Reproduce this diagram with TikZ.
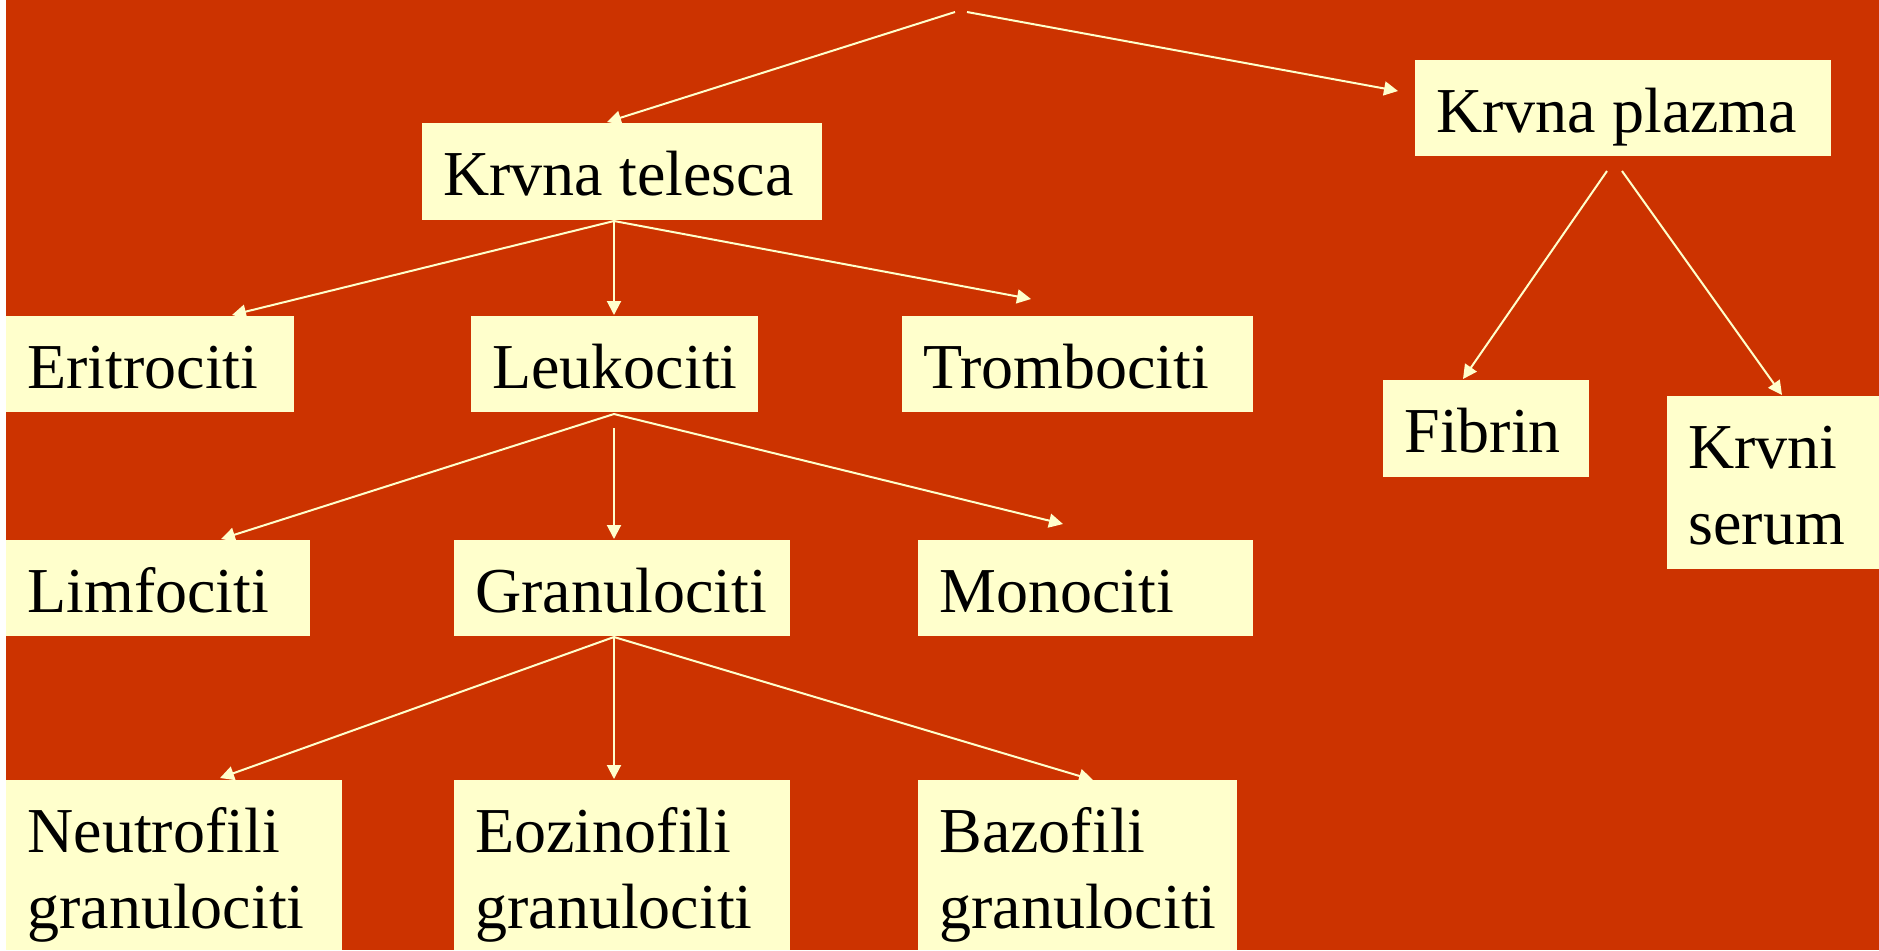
\documentclass[tikz,border=0pt]{standalone}
\usepackage{fontspec}
\setmainfont{Liberation Serif}
\usetikzlibrary{arrows.meta}
\definecolor{bg}{HTML}{CC3300}
\definecolor{boxc}{HTML}{FFFFCC}
\begin{document}
\begin{tikzpicture}[x=0.5pt,y=-0.5pt,
 box/.style={fill=boxc, inner sep=0pt, outer sep=0pt, anchor=north west, draw=none},
 lbl/.style={anchor=base west, inner sep=0pt, font=\fontsize{32}{38}\selectfont, text=black},
 con/.style={draw=boxc, line width=1pt, -{Triangle[length=7pt,width=7pt]}}]
\useasboundingbox (0,0) rectangle (1879,950);
\fill[white] (0,0) rectangle (1879,950);
\fill[bg] (6,0) rectangle (1879,950);
% boxes
\node[box, minimum width=200pt, minimum height=48.5pt] (tel) at (422,123) {};
\node[box, minimum width=208pt, minimum height=48pt] (pla) at (1415,60) {};
\node[box, minimum width=144pt, minimum height=48pt] (eri) at (6,316) {};
\node[box, minimum width=143.5pt, minimum height=48pt] (leu) at (471,316) {};
\node[box, minimum width=175.5pt, minimum height=48pt] (tro) at (902,316) {};
\node[box, minimum width=103pt, minimum height=48.5pt] (fib) at (1383,380) {};
\node[box, minimum width=106pt, minimum height=86.5pt] (ser) at (1667,396) {};
\node[box, minimum width=152pt, minimum height=48pt] (lim) at (6,540) {};
\node[box, minimum width=168pt, minimum height=48pt] (gra) at (454,540) {};
\node[box, minimum width=167.5pt, minimum height=48pt] (mon) at (918,540) {};
\node[box, minimum width=168pt, minimum height=85pt] (neu) at (6,780) {};
\node[box, minimum width=168pt, minimum height=85pt] (eoz) at (454,780) {};
\node[box, minimum width=159.5pt, minimum height=85pt] (baz) at (918,780) {};
% labels
\node[lbl] (telT) at (443,195) {Krvna telesca};
\node[lbl] (plaT) at (1436,132) {Krvna plazma};
\node[lbl] (eriT) at (27,388) {Eritrociti};
\node[lbl] (leuT) at (492,388) {Leukociti};
\node[lbl] (troT) at (923,388) {Trombociti};
\node[lbl] (fibT) at (1404,452) {Fibrin};
\node[lbl] (serT) at (1688,468) {\vtop{\hbox{Krvni}\hbox{serum}}};
\node[lbl] (limT) at (27,612) {Limfociti};
\node[lbl] (graT) at (475,612) {Granulociti};
\node[lbl] (monT) at (939,612) {Monociti};
\node[lbl] (neuT) at (27,852) {\vtop{\hbox{Neutrofili}\hbox{granulociti}}};
\node[lbl] (eozT) at (475,852) {\vtop{\hbox{Eozinofili}\hbox{granulociti}}};
\node[lbl] (bazT) at (939,852) {\vtop{\hbox{Bazofili}\hbox{granulociti}}};
% connector endpoints
\coordinate (topL) at (955,12);
\coordinate (topR) at (967,12);
\coordinate (telIn) at (607,122);
\coordinate (plaIn) at (1398,91);
\coordinate (telOut) at (614,221);
\coordinate (eriIn) at (232,315);
\coordinate (leuIn) at (614,315);
\coordinate (troIn) at (1031,299);
\coordinate (plaOutL) at (1607,171);
\coordinate (plaOutR) at (1622,171);
\coordinate (fibIn) at (1463,379);
\coordinate (serIn) at (1782,395);
\coordinate (leuOut) at (614,414);
\coordinate (leuOutV) at (614,428);
\coordinate (limIn) at (221,539);
\coordinate (graIn) at (614,539);
\coordinate (monIn) at (1063,524);
\coordinate (graOut) at (614,637);
\coordinate (neuIn) at (220,778);
\coordinate (eozIn) at (614,779);
\coordinate (bazIn) at (1093,780);
% connectors
\draw[con] (topL) -- (telIn);
\draw[con] (topR) -- (plaIn);
\draw[con] (telOut) -- (eriIn);
\draw[con] (telOut) -- (leuIn);
\draw[con] (telOut) -- (troIn);
\draw[con] (plaOutL) -- (fibIn);
\draw[con] (plaOutR) -- (serIn);
\draw[con] (leuOut) -- (limIn);
\draw[con] (leuOutV) -- (graIn);
\draw[con] (leuOut) -- (monIn);
\draw[con] (graOut) -- (neuIn);
\draw[con] (graOut) -- (eozIn);
\draw[con] (graOut) -- (bazIn);
\end{tikzpicture}
\end{document}
